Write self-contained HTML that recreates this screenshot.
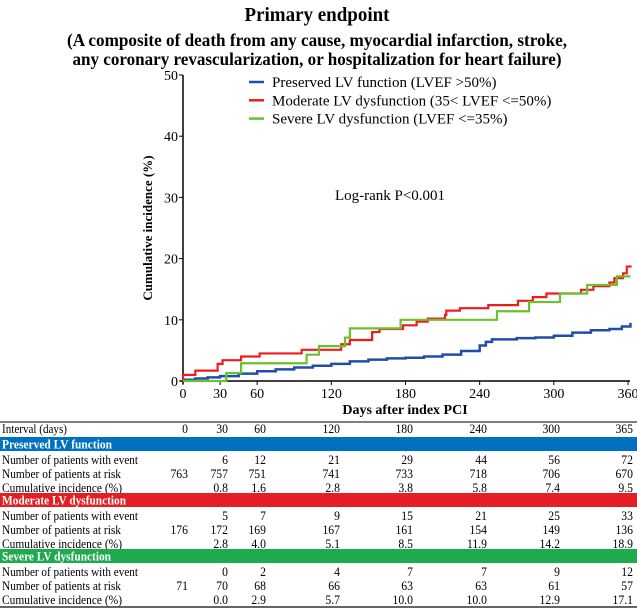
<!DOCTYPE html>
<html><head><meta charset="utf-8"><style>
body{margin:0;background:#fff;font-family:"Liberation Serif",serif;}
#wrap{position:relative;width:637px;height:610px;overflow:hidden;}
svg text{font-family:"Liberation Serif",serif;}
</style></head><body>
<div id="wrap">
<svg id="svg" width="637" height="610"></svg>
</div>
<script>
const xTicks=[0,30,60,120,180,240,300,360];
const yTicks=[0,10,20,30,40,50];
const redDays=[0,0,10,28,32,47,62,96,128,135,153,159,178,189,198,212,213,224,247,271,283,294,322,332,345,349,356,359,362];
const redVals=[0,1.0,1.7,2.8,3.4,4.0,4.5,5.1,6.0,6.7,8.0,8.5,9.1,9.7,10.2,10.8,11.5,11.9,12.4,13.1,13.7,14.3,14.9,15.5,16.1,16.8,17.6,18.7,18.9];
const greenDays=[0,35,47,100,110,131,135,176,254,280,305,327,351,362];
const greenVals=[0,1.3,2.9,4.3,5.7,7.1,8.6,10.0,11.4,12.9,14.3,15.7,17.1,17.1];
const blueDays=[0,10,20,30,45,60,75,90,105,120,135,150,165,180,195,210,225,240,245,250,270,285,300,315,330,345,355,362];
const blueVals=[0.2,0.4,0.6,0.8,1.2,1.6,1.9,2.2,2.5,2.8,3.2,3.5,3.7,3.8,4.0,4.3,4.9,5.8,6.4,6.8,7.0,7.1,7.4,7.9,8.3,8.5,8.9,9.5];
const tCols=["0","30","60","120","180","240","300","365"];
const groups=[
 {name:"Preserved LV function",w:110,color:"#0070c0",ev:["","6","12","21","29","44","56","72"],risk:["763","757","751","741","733","718","706","670"],cum:["","0.8","1.6","2.8","3.8","5.8","7.4","9.5"]},
 {name:"Moderate LV dysfunction",w:124,color:"#e31e24",ev:["","5","7","9","15","21","25","33"],risk:["176","172","169","167","161","154","149","136"],cum:["","2.8","4.0","5.1","8.5","11.9","14.2","18.9"]},
 {name:"Severe LV dysfunction",w:109,color:"#1faa4e",ev:["","0","2","4","7","7","9","12"],risk:["71","70","68","66","63","63","61","57"],cum:["","0.0","2.9","5.7","10.0","10.0","12.9","17.1"]}
];
const colX=[188,228,266,340,413,487,560,633];
const NS="http://www.w3.org/2000/svg";
const svg=document.getElementById('svg');
function mk(tag,attrs,parent){const e=document.createElementNS(NS,tag);for(const k in attrs)e.setAttribute(k,attrs[k]);(parent||svg).appendChild(e);return e;}
function tx(s,attrs){const e=mk('text',attrs);e.textContent=s;return e;}
const X0=183,X1=628,Y0=381,Y1=75;
const sx=d=>X0+(X1-X0)*d/360;
const sy=v=>Y0-(Y0-Y1)*v/50;

let t;
t=tx("Primary endpoint",{x:317,y:21,'text-anchor':'middle','font-size':20,'font-weight':'bold',textLength:145,lengthAdjust:'spacingAndGlyphs'});

t=tx("(A composite of death from any cause, myocardial infarction, stroke,",{x:317,y:46,'text-anchor':'middle','font-size':18,'font-weight':'bold',textLength:500,lengthAdjust:'spacingAndGlyphs'});

t=tx("any coronary revascularization, or hospitalization for heart failure)",{x:317,y:65,'text-anchor':'middle','font-size':18,'font-weight':'bold',textLength:489,lengthAdjust:'spacingAndGlyphs'});


let a=mk('line',{x1:X0,y1:Y1,x2:X0,y2:Y0+3,stroke:'#000','stroke-width':1.5});

a=mk('line',{x1:X0-3,y1:Y0,x2:X1+2,y2:Y0,stroke:'#000','stroke-width':1.5});

yTicks.forEach(v=>{
 mk('line',{x1:X0-4,y1:sy(v),x2:X0,y2:sy(v),stroke:'#000'});
 const l=tx(String(v),{x:X0-5,y:sy(v)+5,'text-anchor':'end','font-size':14});
 
});
xTicks.forEach(d=>{
 mk('line',{x1:sx(d),y1:Y0,x2:sx(d),y2:Y0+4,stroke:'#000'});
 const l=tx(String(d),{x:sx(d),y:Y0+17,'text-anchor':'middle','font-size':14});
 
});
t=tx("Days after index PCI",{x:405,y:414,'text-anchor':'middle','font-size':14,'font-weight':'bold'});

t=tx("Cumulative incidence (%)",{x:0,y:0,'text-anchor':'middle','font-size':13,'font-weight':'bold',transform:'translate(152,228) rotate(-90)'});

t=tx("Log-rank P<0.001",{x:390,y:200,'text-anchor':'middle','font-size':15});


function stepPath(ds,vs){let p=`M${sx(ds[0])},${sy(vs[0])}`;for(let i=1;i<ds.length;i++){p+=`H${sx(ds[i])}V${sy(vs[i])}`;}return p;}
let s=mk('path',{d:stepPath(blueDays,blueVals),fill:'none',stroke:'#1f4eaa','stroke-width':2.5});

s=mk('path',{d:stepPath(redDays,redVals),fill:'none',stroke:'#f01c1c','stroke-width':2.2});

s=mk('path',{d:stepPath(greenDays,greenVals),fill:'none',stroke:'#6cc02a','stroke-width':2.2});


const legs=[["Preserved LV function (LVEF >50%)","#1f4eaa"],["Moderate LV dysfunction (35< LVEF <=50%)","#f01c1c"],["Severe LV dysfunction (LVEF <=35%)","#6cc02a"]];
legs.forEach((l,i)=>{const y=82+i*18.3;
 const g=mk('g',{});
 
 mk('line',{x1:249,y1:y,x2:264,y2:y,stroke:l[1],'stroke-width':2.5},g);
 const e=mk('text',{x:272,y:y+5,'font-size':15},g);e.textContent=l[0];
});

mk('line',{x1:0,y1:422,x2:637,y2:422,stroke:'#555','stroke-width':1.5});
mk('line',{x1:0,y1:607,x2:637,y2:607,stroke:'#333','stroke-width':1.5});
const labelW={"Interval (days)":65,"Number of patients with event":136,"Number of patients at risk":119,"Cumulative incidence (%)":120};
function row(label,vals,y,name){
 const g=mk('g',{});
 
 const e=mk('text',{x:2,y:y,'font-size':13,textLength:labelW[label],lengthAdjust:'spacingAndGlyphs'},g);e.textContent=label;
 vals.forEach((v,i)=>{if(v==="")return;const c=mk('text',{x:colX[i],y:y,'text-anchor':'end','font-size':13,transform:`translate(${colX[i]},0) scale(0.9,1) translate(${-colX[i]},0)`},g);c.textContent=v;});
}
row("Interval (days)",tCols,433,'interval-header-row');
groups.forEach((g,k)=>{
 const top=437+k*56;
 const b=mk('rect',{x:0,y:top,width:637,height:14,fill:g.color});
 
 const bt=tx(g.name,{x:2,y:top+11.5,'font-size':13,'font-weight':'bold',fill:'#fff',textLength:g.w,lengthAdjust:'spacingAndGlyphs'});
 
 row("Number of patients with event",g.ev,top+27,'events-row');
 row("Number of patients at risk",g.risk,top+41,'at-risk-row');
 row("Cumulative incidence (%)",g.cum,top+55,'cumulative-incidence-row');
});
</script>
</body></html>
